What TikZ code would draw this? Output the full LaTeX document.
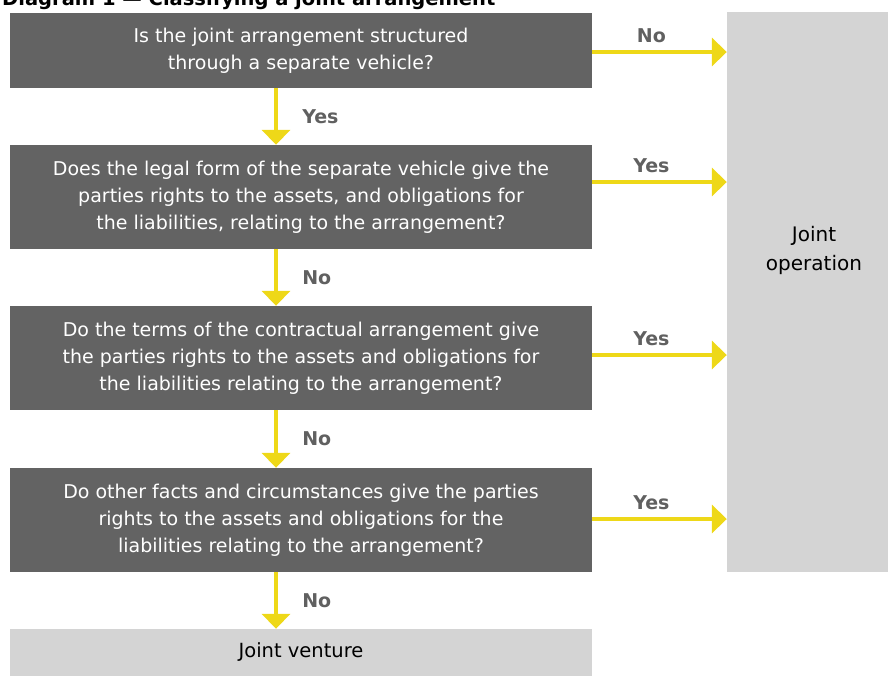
\documentclass[tikz,border=0pt]{standalone}
\usepackage{fontspec}
\setmainfont{DejaVu Sans}
\usepackage{xcolor}
\usepackage{tikz}
\usetikzlibrary{positioning,calc,arrows.meta}

\definecolor{qgray}{RGB}{99,99,99}
\definecolor{resgray}{RGB}{212,212,212}
\definecolor{eyyellow}{RGB}{238,216,24}
\definecolor{ansgray}{RGB}{96,96,96}

\begin{document}
\begin{tikzpicture}[x=1pt, y=-1pt,
  question/.style={fill=qgray, text=white, minimum width=582pt, align=center,
    inner sep=0pt, font=\fontsize{19}{27}\selectfont},
  outcome/.style={fill=resgray, text=black, inner sep=0pt, align=center},
  yarrow/.style={draw=eyyellow, line width=4.5pt, -{Triangle[length=15pt, width=28pt]}},
  answer/.style={text=ansgray, inner sep=0pt, font=\fontsize{19}{22}\selectfont\bfseries}]
  \useasboundingbox (0, 0) rectangle (888, 675);
  \clip (0, 0) rectangle (888, 675);

  % title, cut off by the top edge
  \node[anchor=base west, inner sep=0pt, text=black, font=\fontsize{19.5}{22}\selectfont\bfseries] (title) at (2, 5) {Diagram 1 — Classifying a joint arrangement};

  \node[question, minimum height=75pt] (q1) at (301, 50.5) {Is the joint arrangement structured\\through a separate vehicle?};
  \node[question, minimum height=104pt] (q2) at (301, 197) {Does the legal form of the separate vehicle give the\\parties rights to the assets, and obligations for\\the liabilities, relating to the arrangement?};
  \node[question, minimum height=104pt] (q3) at (301, 358) {Do the terms of the contractual arrangement give\\the parties rights to the assets and obligations for\\the liabilities relating to the arrangement?};
  \node[question, minimum height=104pt] (q4) at (301, 520) {Do other facts and circumstances give the parties\\rights to the assets and obligations for the\\liabilities relating to the arrangement?};
  \node[outcome, minimum width=582pt, minimum height=47pt, font=\fontsize{19.5}{27}\selectfont] (jv) at (301, 652.5) {Joint venture};
  \node[outcome, minimum width=174pt, minimum height=560pt] (jo) at (814, 292) {};
  \node[align=center, inner sep=0pt, font=\fontsize{20}{29}\selectfont] (jotext) at ([yshift=42pt]jo.center) {Joint\\operation};

  % down the chain
  \draw[yarrow] ([xshift=-25pt]q1.south) -- ([xshift=-25pt]q2.north) node[answer, midway, right=24pt] {Yes};
  \draw[yarrow] ([xshift=-25pt]q2.south) -- ([xshift=-25pt]q3.north) node[answer, midway, right=24pt] {No};
  \draw[yarrow] ([xshift=-25pt]q3.south) -- ([xshift=-25pt]q4.north) node[answer, midway, right=24pt] {No};
  \draw[yarrow] ([xshift=-25pt]q4.south) -- ([xshift=-25pt]jv.north) node[answer, midway, right=24pt] {No};

  % across to joint operation
  \draw[yarrow] ([yshift=-1.5pt]q1.east) -- ([yshift=-1.5pt]q1.east -| jo.west) node[answer, pos=0.44, above=7pt] {No};
  \draw[yarrow] ([yshift=15pt]q2.east) -- ([yshift=15pt]q2.east -| jo.west) node[answer, pos=0.44, above=7pt] {Yes};
  \draw[yarrow] ([yshift=3pt]q3.east) -- ([yshift=3pt]q3.east -| jo.west) node[answer, pos=0.44, above=7pt] {Yes};
  \draw[yarrow] ([yshift=1pt]q4.east) -- ([yshift=1pt]q4.east -| jo.west) node[answer, pos=0.44, above=7pt] {Yes};
\end{tikzpicture}
\end{document}
